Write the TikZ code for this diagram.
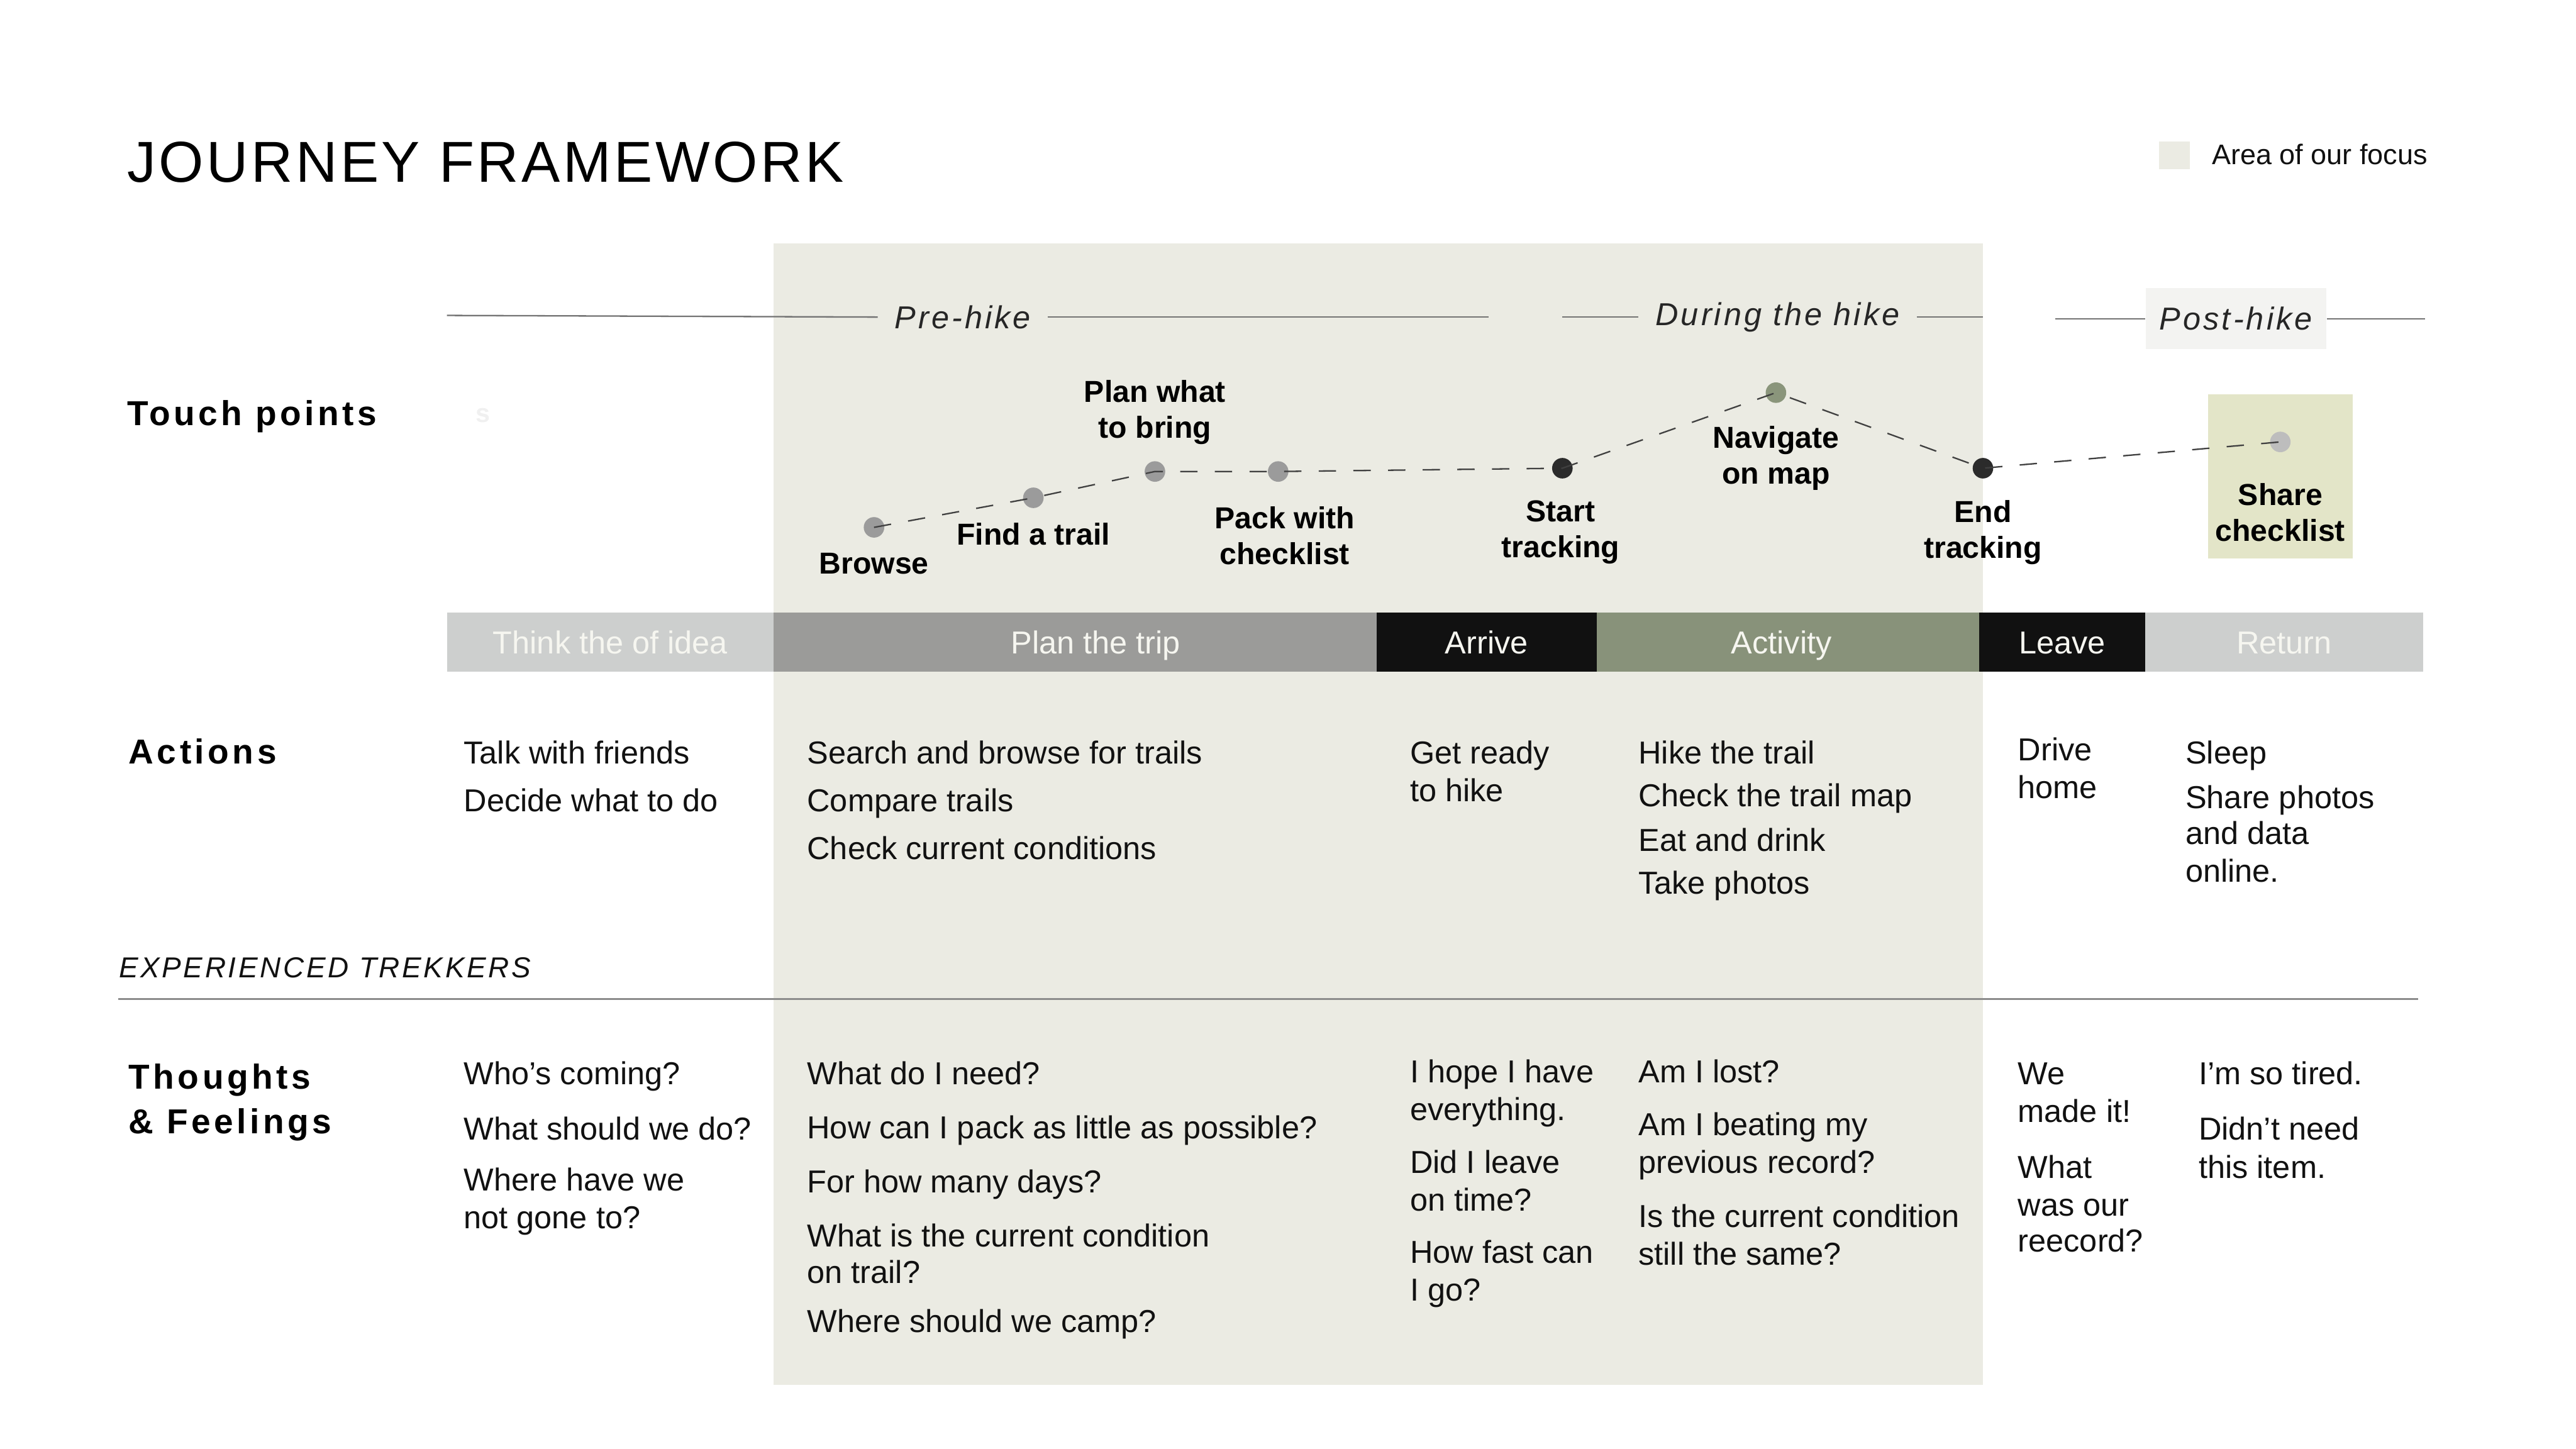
\documentclass[tikz,border=0pt]{standalone}
\usepackage{fontspec}
\setmainfont{Liberation Sans}
\newfontfamily\jtitlefont[LetterSpace=5]{Liberation Sans}
\newfontfamily\rowfont[LetterSpace=10]{Liberation Sans}
\newfontfamily\phasefont[LetterSpace=8]{Liberation Sans}
\usetikzlibrary{positioning}

\definecolor{focus}{HTML}{EBEBE3}
\definecolor{postbox}{HTML}{F3F3F1}
\definecolor{sharebox}{HTML}{E3E5C8}
\definecolor{barlight}{HTML}{CDCFCE}
\definecolor{barmid}{HTML}{9B9B99}
\definecolor{bardark}{HTML}{111111}
\definecolor{bargreen}{HTML}{88927A}
\definecolor{bartext}{HTML}{F6F6F0}
\definecolor{dotgray}{HTML}{9B9B9B}
\definecolor{dotdark}{HTML}{2B2B2B}
\definecolor{dotgreen}{HTML}{8A957B}
\definecolor{dotlight}{HTML}{BDBDBD}
\definecolor{ink}{HTML}{111111}

\begin{document}
\begin{tikzpicture}[x=0.02cm, y=-0.02cm,
    node distance=0pt,
    pagetitle/.style={anchor=base west, inner sep=0pt, font=\jtitlefont\fontsize{20}{24}\selectfont},
    rowlabel/.style={anchor=base west, inner sep=0pt, font=\rowfont\bfseries\fontsize{12}{15.4}\selectfont},
    phase/.style={inner xsep=0.2cm, inner ysep=0pt, font=\phasefont\itshape\fontsize{11}{13}\selectfont, text=black!85},
    phaseline/.style={draw=black!55, line width=0.5pt},
    barseg/.style={minimum height=0.72cm, inner sep=0pt, outer sep=0pt, text=bartext, text height=7.9pt, text depth=0pt, font=\fontsize{11}{13}\selectfont},
    dot/.style={circle, minimum size=0.25cm, inner sep=0pt},
    tplabel/.style={align=center, inner sep=0pt, font=\bfseries\fontsize{10.5}{12.5}\selectfont},
    trail/.style={draw=black!75, line width=0.5pt, dash pattern=on 6pt off 6pt},
    body/.style={anchor=base west, inner sep=0pt, text=ink, font=\fontsize{11}{13}\selectfont}
]
    % Canvas and focus area
    \fill[white] (0,0) rectangle (1568,882);
    \useasboundingbox (0,0) rectangle (1568,882);
    \fill[focus] (471,148) rectangle (1207,843);

    % Title and legend
    \node[pagetitle] (title) at (77,111) {JOURNEY FRAMEWORK};
    \fill[focus] (1314,86) rectangle (1333,103);
    \node[body, font=\fontsize{9.8}{12}\selectfont] (legend) at (1346,100) {Area of our focus};

    % Phases
    \node[phase] (prehike) at (586,193) {Pre-hike};
    \node[phase] (during) at (1082,193) {During the hike};
    \node[phase, fill=postbox, inner xsep=0pt, minimum width=2.2cm, minimum height=0.74cm] (posthike) at (1361,194) {Post-hike};
    \coordinate (pre left) at (272,192);
    \coordinate (pre right) at (906,193);
    \coordinate (dur left) at (951,193);
    \coordinate (dur right) at (1207,193);
    \coordinate (post left) at (1251,194);
    \coordinate (post right) at (1476,194);
    \draw[phaseline] (pre left) -- (prehike.west);
    \draw[phaseline] (prehike.east) -- (pre right);
    \draw[phaseline] (dur left) -- (during.west);
    \draw[phaseline] (during.east) -- (dur right);
    \draw[phaseline] (post left) -- (posthike.west);
    \draw[phaseline] (posthike.east) -- (post right);

    % Row labels
    \node[rowlabel] (touch) at (77,259) {Touch points};
    \node[text=black!6, font=\bfseries\fontsize{9}{10}\selectfont, inner sep=0pt] (ghost) at (294,253) {s};
    \node[rowlabel] (actions) at (78,465) {Actions};
    \node[rowlabel, anchor=west, align=left] (thoughts) at (78,671) {Thoughts\\\& Feelings};
    \node[body, font=\phasefont\itshape\fontsize{10}{12}\selectfont] (trekkers) at (72,595) {EXPERIENCED TREKKERS};
    \draw[draw=black!45, line width=0.6pt] (72,608) -- (1472,608);

    % Touch points
    \fill[sharebox] (1344,240) rectangle (1432,340);
    \node[dot, fill=dotgray] (browse) at (532,321) {};
    \node[dot, fill=dotgray] (findtrail) at (629,303) {};
    \node[dot, fill=dotgray] (planbring) at (703,287) {};
    \node[dot, fill=dotgray] (pack) at (778,287) {};
    \node[dot, fill=dotdark] (start) at (951,285) {};
    \node[dot, fill=dotgreen] (navigate) at (1081,239) {};
    \node[dot, fill=dotdark] (endtrack) at (1207,285) {};
    \node[dot, fill=dotlight] (share) at (1388,269) {};
    \draw[trail] (browse.center) -- (findtrail.center) -- (planbring.center) -- (pack.center)
        -- (start.center) -- (navigate.center) -- (endtrack.center) -- (share.center);

    \node[tplabel] (browse label) at (532,343) {Browse};
    \node[tplabel] (findtrail label) at (629,325) {Find a trail};
    \node[tplabel] (planbring label) at (703,251) {Plan what\\to bring};
    \node[tplabel] (pack label) at (782,326) {Pack with\\checklist};
    \node[tplabel] (start label) at (950,324) {Start\\tracking};
    \node[tplabel] (navigate label) at (1081,279) {Navigate\\on map};
    \node[tplabel] (endtrack label) at (1207,324) {End\\tracking};
    \node[tplabel] (share label) at (1388,312) {Share\\checklist};

    % Stage bar
    \node[barseg, fill=barlight, minimum width=3.98cm] (think) at (371.5,391) {Think the of idea};
    \node[barseg, fill=barmid, minimum width=7.34cm, right=of think] (plan) {\hspace*{0.5cm}Plan the trip};
    \node[barseg, fill=bardark, minimum width=2.68cm, right=of plan] (arrive) {Arrive};
    \node[barseg, fill=bargreen, minimum width=4.66cm, right=of arrive] (activity) {Activity\hspace*{0.16cm}};
    \node[barseg, fill=bardark, minimum width=2.02cm, right=of activity] (leave) {Leave};
    \node[barseg, fill=barlight, minimum width=3.38cm, right=of leave] (return) {Return};

    % Actions
    \foreach \y/\t in {465/Talk with friends, 494/Decide what to do}
        \node[body] (act1-\y) at (282,\y) {\t};
    \foreach \y/\t in {465/Search and browse for trails, 494/Compare trails, 523/Check current conditions}
        \node[body] (act2-\y) at (491,\y) {\t};
    \foreach \y/\t in {465/Get ready, 488/to hike}
        \node[body] (act3-\y) at (858,\y) {\t};
    \foreach \y/\t in {465/Hike the trail, 491/Check the trail map, 518/Eat and drink, 544/Take photos}
        \node[body] (act4-\y) at (997,\y) {\t};
    \foreach \y/\t in {463/Drive, 486/home}
        \node[body] (act5-\y) at (1228,\y) {\t};
    \foreach \y/\t in {465/Sleep, 492/Share photos, 514/and data, 537/online.}
        \node[body] (act6-\y) at (1330,\y) {\t};

    % Thoughts and feelings
    \foreach \y/\t in {660/Who’s coming?, 694/What should we do?, 725/Where have we, 748/not gone to?}
        \node[body] (tf1-\y) at (282,\y) {\t};
    \foreach \y/\t in {660/What do I need?, 693/How can I pack as little as possible?, 726/For how many days?,
        759/What is the current condition, 781/on trail?, 811/Where should we camp?}
        \node[body] (tf2-\y) at (491,\y) {\t};
    \foreach \y/\t in {659/I hope I have, 682/everything., 714/Did I leave, 737/on time?, 769/How fast can, 792/I go?}
        \node[body] (tf3-\y) at (858,\y) {\t};
    \foreach \y/\t in {659/Am I lost?, 691/Am I beating my, 714/previous record?, 747/Is the current condition, 770/still the same?}
        \node[body] (tf4-\y) at (997,\y) {\t};
    \foreach \y/\t in {660/We, 683/made it!, 717/What, 740/was our, 762/reecord?}
        \node[body] (tf5-\y) at (1228,\y) {\t};
    \foreach \y/\t in {660/I’m so tired., 694/Didn’t need, 717/this item.}
        \node[body] (tf6-\y) at (1338,\y) {\t};
\end{tikzpicture}
\end{document}
